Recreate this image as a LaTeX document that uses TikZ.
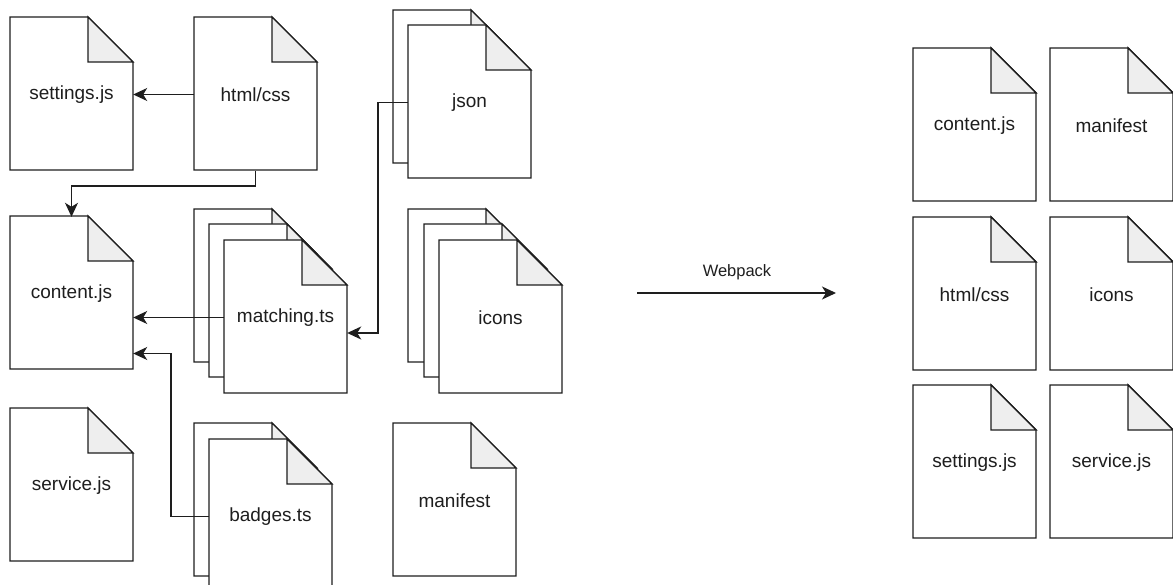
\documentclass[tikz,border=0pt]{standalone}
\usepackage{fontspec}
\setmainfont{Liberation Sans}
\usetikzlibrary{arrows.meta}

\definecolor{foldgray}{RGB}{238,238,238}
\definecolor{inkgray}{RGB}{30,30,30}

\newcommand*{\docw}{123}
\newcommand*{\doch}{153}
\newcommand*{\fold}{45}

% file sheet: name, left, top, label
\newcommand*{\filedoc}[4]{%
	\draw[docline,fill=white] (#2,#3) -- ++(\docw-\fold,0) -- ++(\fold,\fold) -- ++(0,\doch-\fold) -- ++(-\docw,0) -- cycle;
	\draw[docline,fill=foldgray] (#2+\docw-\fold,#3) -- ++(0,\fold) -- ++(\fold,0) -- cycle;
	\node[doc] (#1) at (#2+\docw/2,#3+\doch/2+1) {#4};
}

\begin{document}
\begin{tikzpicture}
[
	x=1pt,
	y=-1pt,
	docline/.style={draw=inkgray,line width=1.4pt,line join=miter},
	doc/.style={minimum width=\docw pt,minimum height=\doch pt,inner sep=0pt,font=\fontsize{19}{22}\selectfont,text=inkgray},
	conn/.style={draw=inkgray,line width=1.4pt,-{Stealth[length=14pt,width=13pt,inset=4pt]}},
	lbl/.style={font=\fontsize{16.5}{20}\selectfont,text=inkgray,inner sep=0pt}
]

	\useasboundingbox (0,0) rectangle (1173,585);

	% sources
	\filedoc{settings}{10}{17}{settings.js}
	\filedoc{html}{194}{17}{html/css}
	\filedoc{jsonA}{393}{10}{}
	\filedoc{json}{408}{25}{json}

	\filedoc{content}{10}{216}{content.js}
	\filedoc{matchingA}{194}{209}{}
	\filedoc{matchingB}{209}{224}{}
	\filedoc{matching}{224}{240}{matching.ts}
	\filedoc{iconsA}{408}{209}{}
	\filedoc{iconsB}{424}{224}{}
	\filedoc{icons}{439}{240}{icons}

	\filedoc{service}{10}{408}{service.js}
	\filedoc{badgesA}{194}{423}{}
	\filedoc{badges}{209}{439}{badges.ts}
	\filedoc{manifest}{393}{423}{manifest}

	% imports
	\draw[conn] (html) -- (settings);
	\draw[conn] (html.south) -- ++(0,15) -| (content.north);
	\draw[conn] (json.west) -- ++(-30,0) |- ([yshift=-15.5pt]matching.east);
	\draw[conn] (matching.west) -- (matching.west -| content.east);
	\draw[conn] (badges.west) -- ++(-38,0) |- ([yshift=-60pt]content.east);

	% bundling
	\coordinate (wpin) at (637,293);
	\coordinate (wpout) at (836,293);
	\node[lbl] (wplabel) at (737,272) {Webpack};
	\draw[conn] (wpin) -- (wpout);

	% output
	\filedoc{outcontent}{913}{48}{content.js}
	\filedoc{outmanifest}{1050}{48}{manifest}
	\filedoc{outhtml}{913}{217}{html/css}
	\filedoc{outicons}{1050}{217}{icons}
	\filedoc{outsettings}{913}{385}{settings.js}
	\filedoc{outservice}{1050}{385}{service.js}

\end{tikzpicture}
\end{document}
